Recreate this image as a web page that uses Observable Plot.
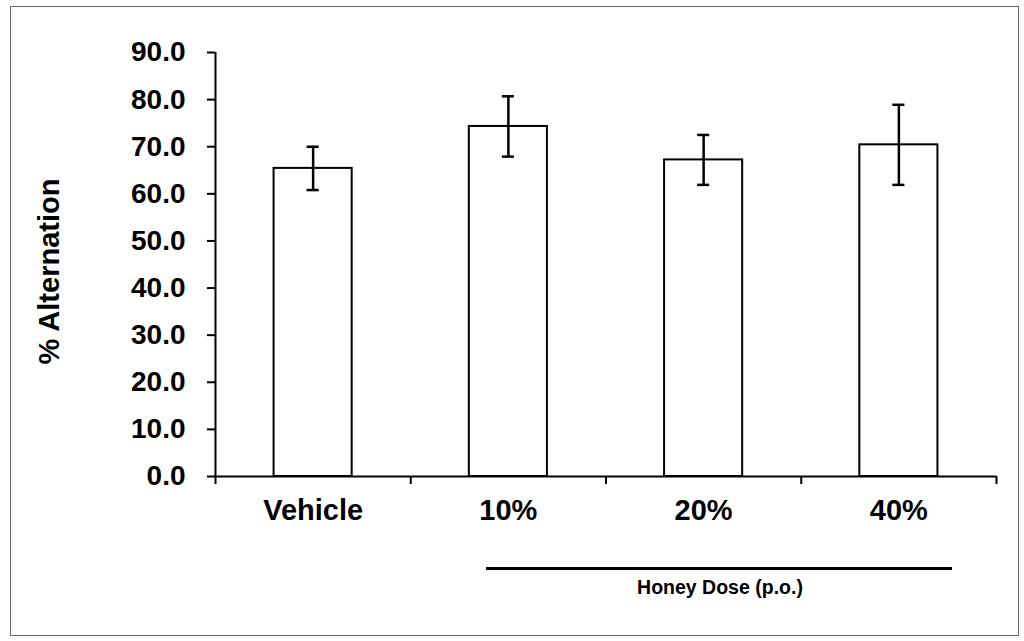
<!DOCTYPE html>
<html>
<head>
<meta charset="utf-8">
<script src="https://cdn.jsdelivr.net/npm/d3@7"></script>
<script src="https://cdn.jsdelivr.net/npm/@observablehq/plot@0.6"></script>
<style>
  html, body { margin: 0; padding: 0; background: #fff; }
  #wrap { position: relative; width: 1024px; height: 641px; overflow: hidden; font-family: "Liberation Sans", Arial, sans-serif; }
  #border { position: absolute; left: 10px; top: 6px; width: 1009px; height: 630px; border: 1px solid #666; box-sizing: border-box; pointer-events: none; }
  #doseLine { position: absolute; left: 486px; top: 567px; width: 466px; height: 3px; background: #000; }
  #doseLabel { position: absolute; left: 486px; width: 468px; top: 576px; text-align: center; font-weight: bold; font-size: 19.5px; color: #000; }
  svg { position: absolute; left: 0; top: 0; }
</style>
</head>
<body>
<div id="wrap">
  <div id="chart"></div>
  <div id="doseLine"></div>
  <div id="doseLabel">Honey Dose (p.o.)</div>
  <div id="border"></div>
</div>
<script>
const categories = ["Vehicle", "10%", "20%", "40%"];
const means = [65.4, 74.3, 67.2, 70.4];
const errors = [4.6, 6.4, 5.3, 8.5];
const yTicks = [0, 10, 20, 30, 40, 50, 60, 70, 80, 90];
const yLabel = "% Alternation";

const rows = categories.map((c, i) => ({ cat: c, i, mean: means[i], err: errors[i] }));
const barHalf = 0.2;   // bar width = 40% of category slot
const capHalf = 0.031; // error cap half-width in slot units

const font = "Liberation Sans, Arial, sans-serif";

const chart = Plot.plot({
  width: 1024,
  height: 641,
  marginLeft: 215,
  marginRight: 28,
  marginTop: 52,
  marginBottom: 165,
  style: { fontFamily: font, fontWeight: "bold", color: "#000", background: "transparent" },
  x: { type: "linear", domain: [0, categories.length] },
  y: { domain: [0, 90] },
  marks: [
    Plot.rectY(rows, { x1: d => d.i + 0.5 - barHalf, x2: d => d.i + 0.5 + barHalf, y1: 0, y2: "mean", fill: "white", stroke: "black", strokeWidth: 2 }),
    Plot.ruleX(rows, { x: d => d.i + 0.5, y1: d => d.mean - d.err, y2: d => d.mean + d.err, stroke: "black", strokeWidth: 2.5 }),
    Plot.ruleY(rows, { y: d => d.mean + d.err, x1: d => d.i + 0.5 - capHalf, x2: d => d.i + 0.5 + capHalf, stroke: "black", strokeWidth: 2.5 }),
    Plot.ruleY(rows, { y: d => d.mean - d.err, x1: d => d.i + 0.5 - capHalf, x2: d => d.i + 0.5 + capHalf, stroke: "black", strokeWidth: 2.5 }),
    Plot.ruleX([0], { stroke: "black", strokeWidth: 2 }),
    Plot.ruleY([0], { stroke: "black", strokeWidth: 2 }),
    Plot.axisY({ ticks: yTicks, tickFormat: d => d.toFixed(1), tickSize: 8, tickPadding: 22, fontSize: 28, fontWeight: "bold", strokeWidth: 2, label: null }),
    Plot.axisX({ ticks: d3.range(categories.length + 1), tickFormat: () => "", tickSize: 8, strokeWidth: 2, label: null }),
    Plot.axisX({ ticks: categories.map((c, i) => i + 0.5), tickFormat: (d) => categories[Math.round(d - 0.5)], tickSize: 0, tickPadding: 23, fontSize: 29, fontWeight: "bold", label: null }),
    Plot.text([yLabel], { frameAnchor: "left", textAnchor: "middle", dx: -166, dy: 7, rotate: -90, fontSize: 29, fontWeight: "bold", fill: "black" })
  ]
});
document.getElementById("chart").appendChild(chart);
</script>
</body>
</html>
